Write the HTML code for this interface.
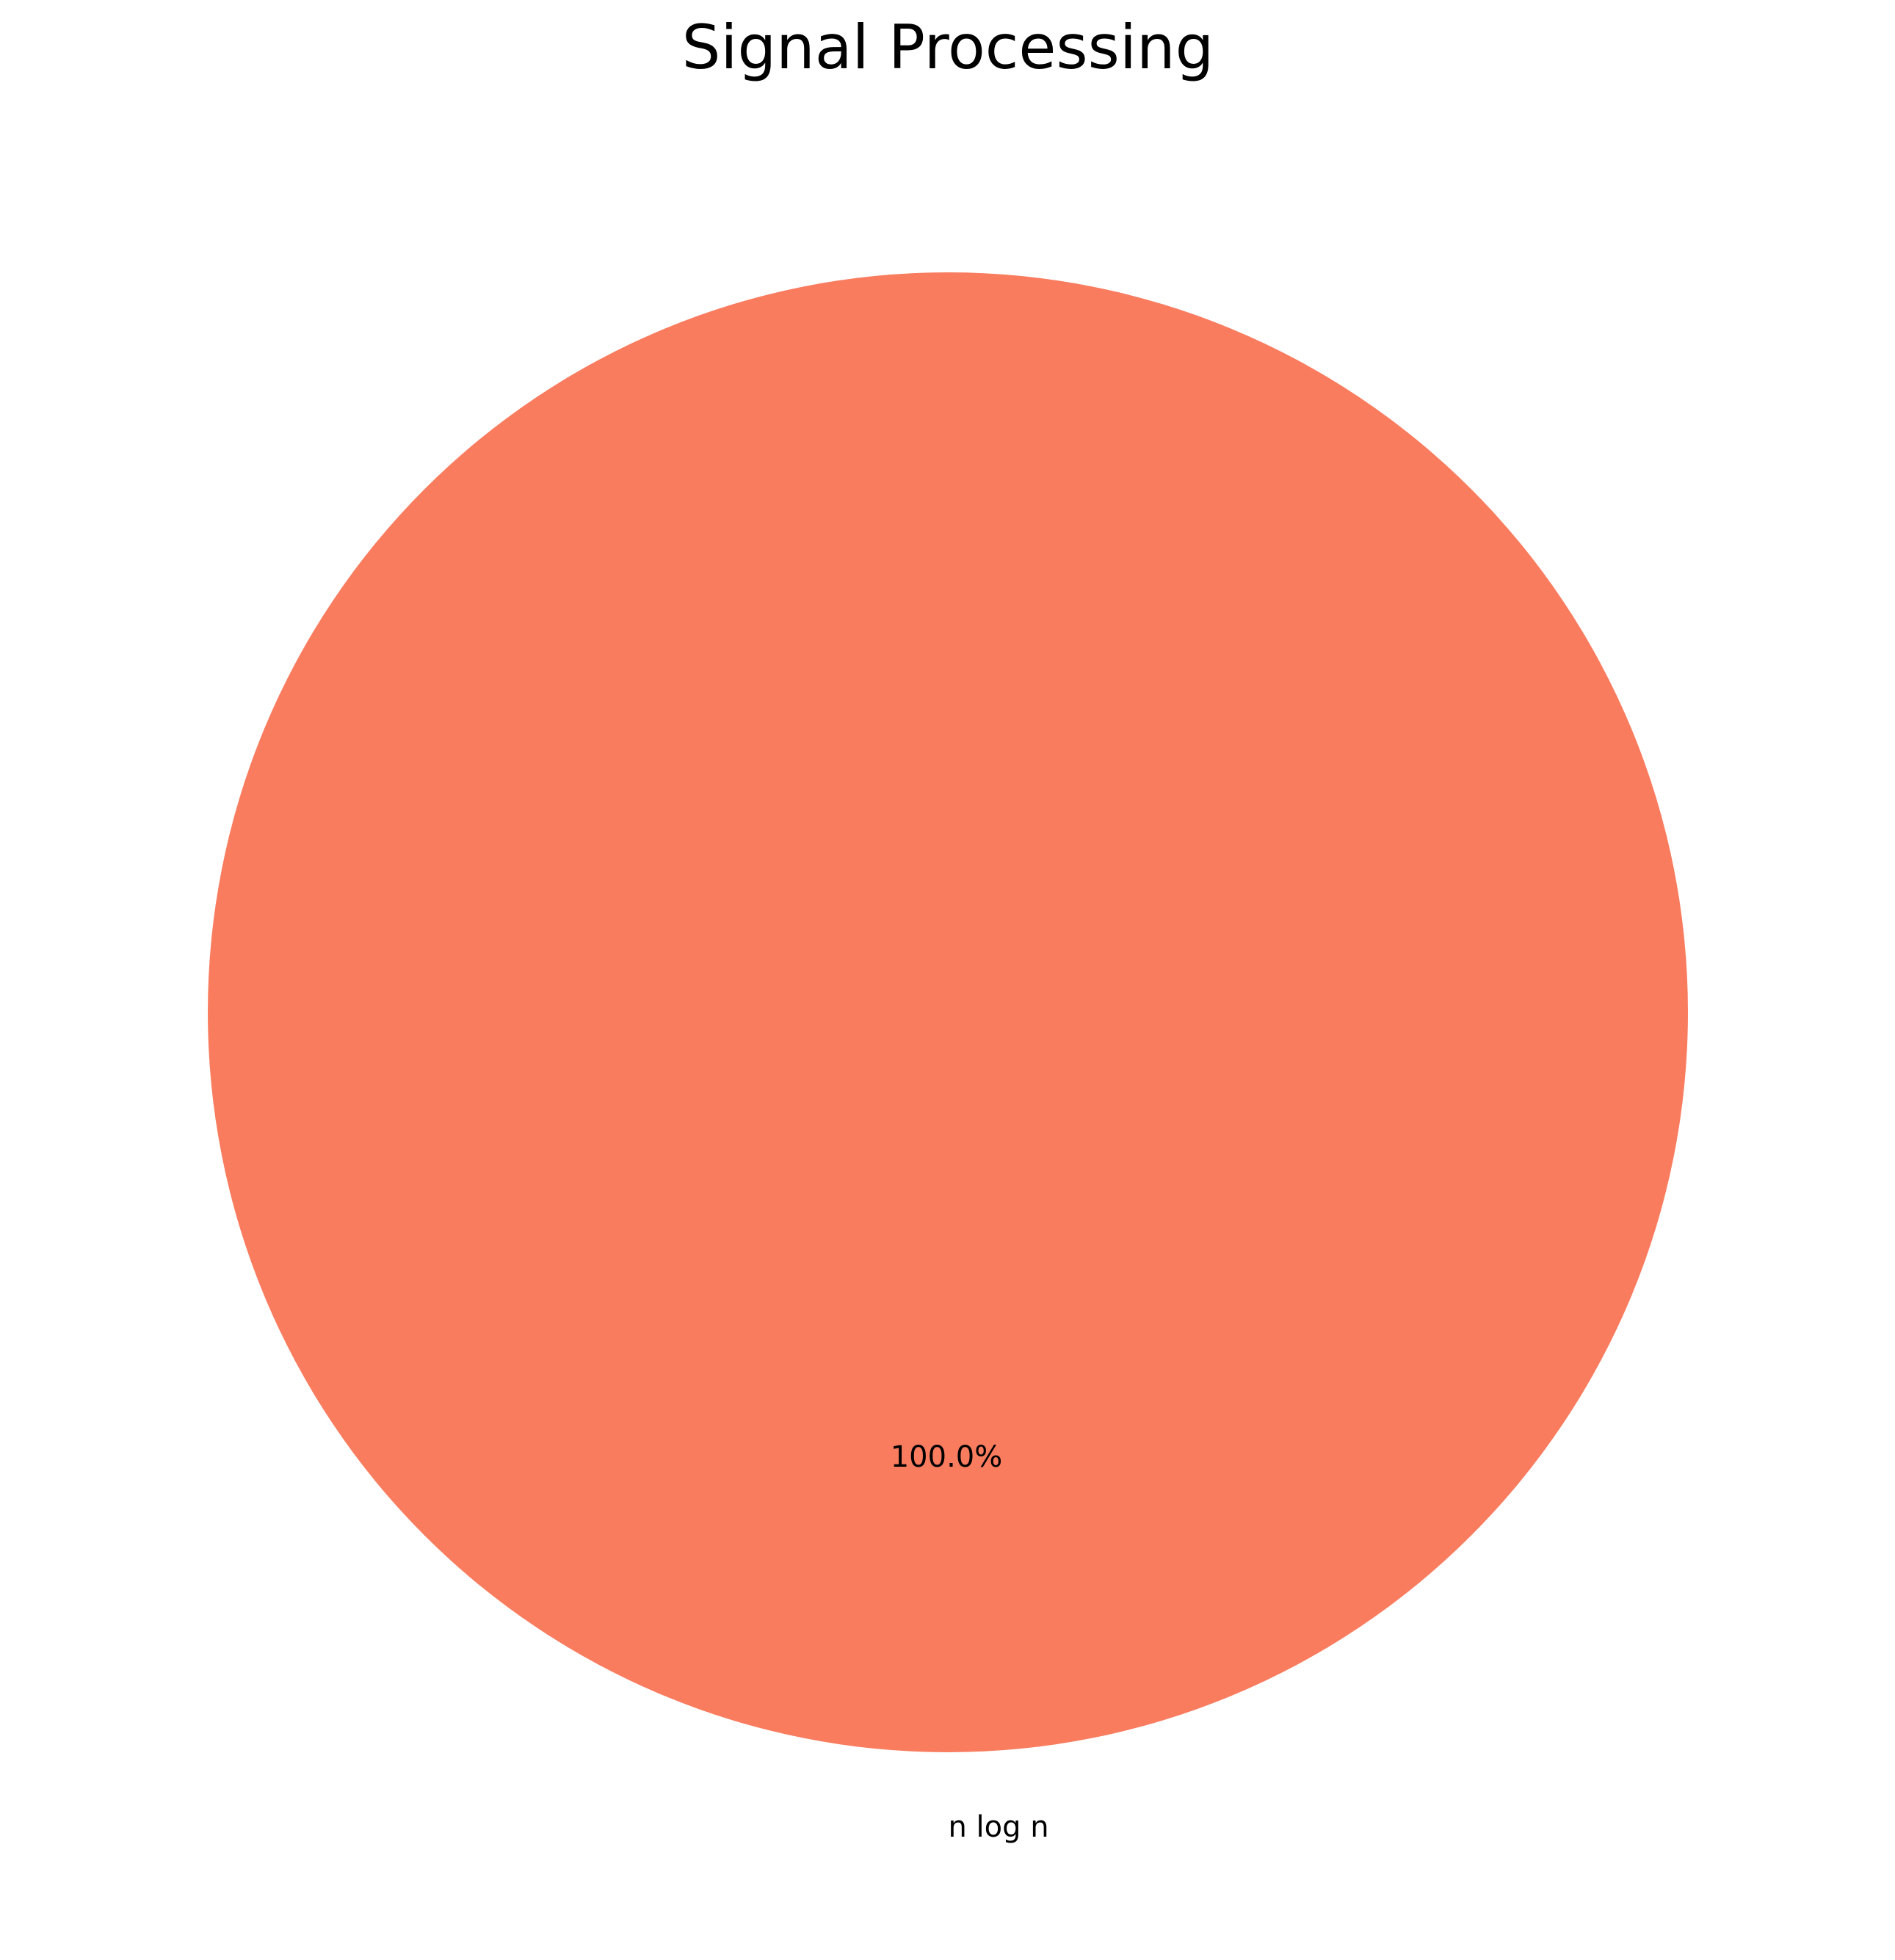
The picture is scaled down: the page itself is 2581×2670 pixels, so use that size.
<!DOCTYPE html>
<html><head><meta charset="utf-8"><style>
body{margin:0;background:#fff;}
svg{display:block;font-family:"DejaVu Sans","Liberation Sans",sans-serif;}
</style></head><body>
<svg id="chart" width="2581" height="2670" viewBox="0 0 2581 2670">
<text x="1291" y="93" text-anchor="middle" font-size="83" fill="#000">Signal Processing</text>
<g id="slices"></g>
</svg>
<script>
const categories = ["n log n"];
const values = [1];
const colors = ["#fa7c5f"];
const cx = 1291, cy = 1379, r = 1008;
const svgNS = "http://www.w3.org/2000/svg";
const g = document.getElementById('slices');
const total = values.reduce((a,b)=>a+b,0);
let start = -Math.PI/2;
values.forEach((v,i)=>{
  const frac = v/total;
  const ang = frac*2*Math.PI;
  let el;
  if (frac >= 0.9999) {
    el = document.createElementNS(svgNS,'circle');
    el.setAttribute('cx',cx); el.setAttribute('cy',cy); el.setAttribute('r',r);
  } else {
    el = document.createElementNS(svgNS,'path');
    const x1=cx+r*Math.cos(start), y1=cy+r*Math.sin(start);
    const x2=cx+r*Math.cos(start+ang), y2=cy+r*Math.sin(start+ang);
    el.setAttribute('d',`M${cx},${cy}L${x1},${y1}A${r},${r} 0 ${ang>Math.PI?1:0} 1 ${x2},${y2}Z`);
  }
  el.setAttribute('fill',colors[i%colors.length]);
  
  
  g.appendChild(el);
  const pct = document.createElementNS(svgNS,'text');
  pct.setAttribute('x', cx - 2);
  pct.setAttribute('y', cy + 0.6*r + 14);
  pct.setAttribute('text-anchor','middle');
  pct.setAttribute('font-size','40');
  pct.textContent = (frac*100).toFixed(1)+'%';
  
  
  g.appendChild(pct);
  const lbl = document.createElementNS(svgNS,'text');
  lbl.setAttribute('x', cx + 69);
  lbl.setAttribute('y', cy + 1.1*r + 14);
  lbl.setAttribute('text-anchor','middle');
  lbl.setAttribute('font-size','40');
  lbl.textContent = categories[i];
  
  
  g.appendChild(lbl);
  start += ang;
});
</script>
</body></html>
